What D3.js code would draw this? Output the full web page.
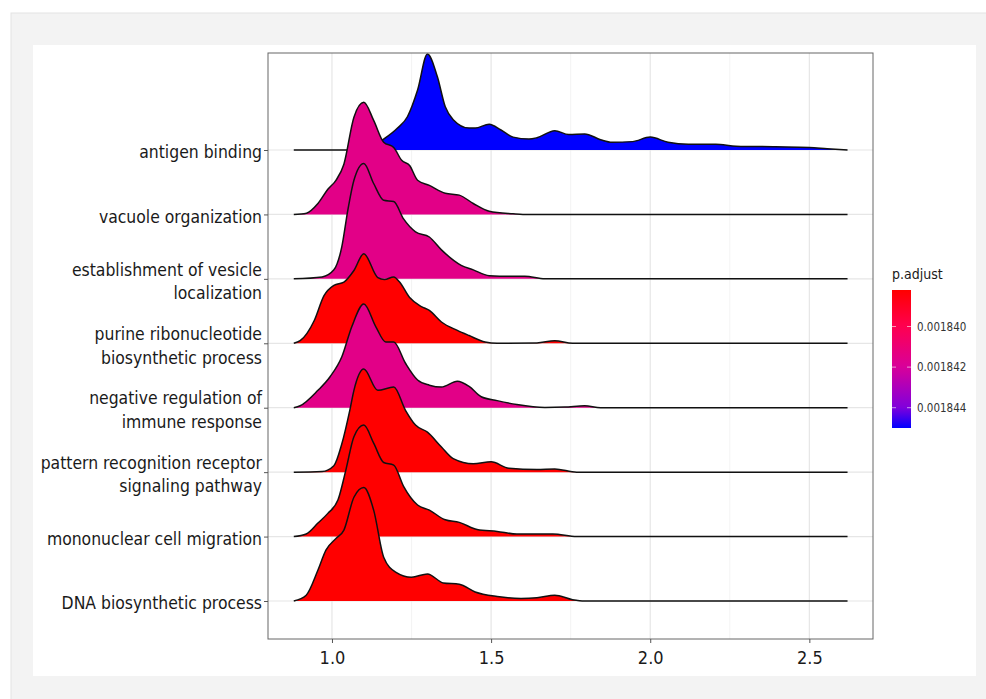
<!DOCTYPE html>
<html>
<head>
<meta charset="utf-8">
<script src="https://cdn.jsdelivr.net/npm/d3@7"></script>
<style>
  body { margin: 0; background: #ffffff; }
  svg { display: block; }
</style>
</head>
<body>
<div id="chart"></div>
<script>
// categories, top row first
const categories = [
  "antigen binding",
  "vacuole organization",
  "establishment of vesicle\nlocalization",
  "purine ribonucleotide\nbiosynthetic process",
  "negative regulation of\nimmune response",
  "pattern recognition receptor\nsignaling pathway",
  "mononuclear cell migration",
  "DNA biosynthetic process"
];

// p.adjust per category (same order)
const pAdjust = [0.001845, 0.0018415, 0.0018415, 0.0018382, 0.0018415, 0.0018382, 0.0018382, 0.0018382];

// density curves: [value, height in row units]
const antigenBinding = [[0.88,0],[1.12,0],[1.144,0.10],[1.206,0.34],[1.2375,0.52],[1.269,0.93],[1.30,1.49],[1.331,1.14],[1.356,0.67],[1.381,0.47],[1.431,0.34],[1.45,0.34],[1.494,0.40],[1.531,0.31],[1.569,0.20],[1.619,0.17],[1.644,0.19],[1.70,0.30],[1.744,0.24],[1.794,0.25],[1.844,0.16],[1.88,0.12],[1.944,0.13],[2.0,0.20],[2.056,0.12],[2.12,0.09],[2.206,0.09],[2.27,0.06],[2.394,0.05],[2.5,0.04],[2.556,0.02],[2.62,0]];
const vacuoleOrganization = [[0.88,0],[0.92,0.02],[0.956,0.17],[0.987,0.39],[1.0125,0.53],[1.0375,0.78],[1.069,1.51],[1.10,1.74],[1.131,1.46],[1.1625,1.12],[1.194,1.04],[1.219,0.84],[1.244,0.76],[1.269,0.53],[1.306,0.45],[1.356,0.33],[1.40,0.30],[1.444,0.17],[1.494,0.05],[1.569,0.01],[1.6,0],[2.62,0]];
const vesicleLocalization = [[0.88,0],[0.969,0.03],[1.006,0.14],[1.031,0.50],[1.05,1.07],[1.069,1.53],[1.10,1.79],[1.131,1.48],[1.1625,1.22],[1.194,1.20],[1.225,0.93],[1.2625,0.73],[1.306,0.65],[1.344,0.45],[1.406,0.21],[1.444,0.14],[1.494,0.05],[1.569,0.04],[1.606,0.04],[1.669,0],[2.62,0]];
const purineBiosynthesis = [[0.88,0],[0.90,0.04],[0.944,0.35],[0.975,0.74],[1.006,0.90],[1.0375,0.95],[1.069,1.13],[1.10,1.39],[1.144,1.02],[1.165,0.99],[1.194,1.03],[1.2125,0.95],[1.244,0.71],[1.281,0.57],[1.306,0.51],[1.344,0.33],[1.394,0.20],[1.431,0.12],[1.481,0.02],[1.519,0],[1.644,0.005],[1.70,0.04],[1.756,0],[2.62,0]];
const negativeImmune = [[0.88,0],[0.90,0.03],[0.956,0.27],[0.994,0.48],[1.031,0.79],[1.0625,1.26],[1.10,1.61],[1.1375,1.26],[1.169,1.02],[1.194,1.02],[1.231,0.69],[1.269,0.43],[1.306,0.35],[1.344,0.32],[1.394,0.41],[1.431,0.33],[1.469,0.17],[1.519,0.11],[1.581,0.05],[1.669,0.005],[1.731,0.01],[1.794,0.03],[1.844,0],[2.62,0]];
const patternRecognition = [[0.88,0],[0.969,0.01],[1.006,0.10],[1.031,0.44],[1.056,0.96],[1.069,1.27],[1.10,1.60],[1.144,1.27],[1.194,1.32],[1.231,0.96],[1.2625,0.73],[1.30,0.62],[1.344,0.39],[1.381,0.21],[1.444,0.13],[1.50,0.16],[1.556,0.06],[1.644,0.04],[1.70,0.05],[1.769,0],[2.62,0]];
const mononuclearMigration = [[0.88,0],[0.919,0.04],[0.956,0.21],[0.987,0.36],[1.019,0.57],[1.044,1.04],[1.069,1.55],[1.10,1.73],[1.131,1.45],[1.1625,1.15],[1.194,1.11],[1.225,0.78],[1.269,0.49],[1.306,0.41],[1.356,0.26],[1.40,0.22],[1.456,0.11],[1.519,0.08],[1.581,0.04],[1.694,0.04],[1.769,0],[2.62,0]];
const dnaBiosynthesis = [[0.88,0],[0.919,0.09],[0.956,0.48],[0.981,0.79],[1.0125,0.97],[1.0375,1.10],[1.069,1.61],[1.10,1.76],[1.131,1.41],[1.1625,0.68],[1.20,0.45],[1.25,0.37],[1.30,0.42],[1.35,0.28],[1.40,0.26],[1.45,0.14],[1.519,0.07],[1.594,0.04],[1.644,0.05],[1.70,0.09],[1.756,0.02],[1.794,0],[2.62,0]];

const ridges = [antigenBinding, vacuoleOrganization, vesicleLocalization, purineBiosynthesis,
                negativeImmune, patternRecognition, mononuclearMigration, dnaBiosynthesis];

const xTicks = [1.0, 1.5, 2.0, 2.5];
const xMinor = [1.25, 1.75, 2.25];
const legendTicks = [0.001840, 0.001842, 0.001844];
const pRange = [0.0018382, 0.0018450];
// colour stops
const colorStopsP = [0.0018382, 0.001840, 0.001842, 0.001844, 0.0018450];
const colorStops = ["#ff0000", "#ff0050", "#d8009a", "#8000dc", "#0000ff"];

// Set up the dimensions
const W = 986, H = 699;
const panel = {left: 268, right: 873, top: 53, bottom: 639};
const fontFam = "'DejaVu Sans', sans-serif";

const svg = d3.select("#chart").append("svg")
    .attr("width", W)
    .attr("height", H);

// page background card
svg.append("rect").attr("x", 11).attr("y", 13).attr("width", W).attr("height", H)
    .attr("fill", "#f3f3f3").attr("stroke", "#e4e4e4");
svg.append("rect").attr("x", 33).attr("y", 45).attr("width", 943).attr("height", 631)
    .attr("fill", "#ffffff");

// scales
const x = d3.scaleLinear().domain([0.799, 2.70]).range([panel.left, panel.right]);
const y = d3.scalePoint().domain(categories).range([150, 601]);
const h = d3.scaleLinear().domain([0, 1]).range([0, y.step()]);
const color = d3.scaleLinear().domain(colorStopsP).range(colorStops).interpolate(d3.interpolateRgb);

// grid
const grid = svg.append("g");
grid.selectAll(".minor").data(xMinor).join("line")
    .attr("x1", d => x(d)).attr("x2", d => x(d))
    .attr("y1", panel.top).attr("y2", panel.bottom)
    .attr("stroke", "#f0f0f0").attr("stroke-width", 0.8);
grid.selectAll(".major").data(xTicks).join("line")
    .attr("x1", d => x(d)).attr("x2", d => x(d))
    .attr("y1", panel.top).attr("y2", panel.bottom)
    .attr("stroke", "#e6e6e6").attr("stroke-width", 1.2);
grid.selectAll(".hmajor").data(categories).join("line")
    .attr("x1", panel.left).attr("x2", panel.right)
    .attr("y1", d => y(d)).attr("y2", d => y(d))
    .attr("stroke", "#e6e6e6").attr("stroke-width", 1.2);

// ridges, top row first so lower rows sit on top
const ridgeG = svg.append("g");
categories.forEach((cat, i) => {
    const base = y(cat);
    const area = d3.area()
        .x(d => x(d[0]))
        .y0(base)
        .y1(d => base - h(d[1]))
        .curve(d3.curveMonotoneX);
    const line = d3.line()
        .x(d => x(d[0]))
        .y(d => base - h(d[1]))
        .curve(d3.curveMonotoneX);
    ridgeG.append("path")
        .attr("d", area(ridges[i]))
        .attr("fill", color(pAdjust[i]));
    ridgeG.append("path")
        .attr("d", line(ridges[i]))
        .attr("fill", "none")
        .attr("stroke", "#111")
        .attr("stroke-width", 1.5);
});

// panel border
svg.append("rect")
    .attr("x", panel.left).attr("y", panel.top)
    .attr("width", panel.right - panel.left).attr("height", panel.bottom - panel.top)
    .attr("fill", "none").attr("stroke", "#666").attr("stroke-width", 1);

// x axis
const xAxis = svg.append("g")
    .attr("transform", `translate(0,${panel.bottom})`)
    .call(d3.axisBottom(x).tickValues(xTicks).tickFormat(d3.format(".1f")).tickSize(4).tickSizeOuter(0))
    .style("font-family", fontFam)
    .style("font-size", "18px")
    .style("font-stretch", "condensed");
xAxis.select(".domain").remove();
xAxis.selectAll("line").attr("stroke", "#555");
xAxis.selectAll("text").attr("fill", "#1a1a1a").attr("dy", "1.0em");

// y axis
const yAxis = svg.append("g")
    .attr("transform", `translate(${panel.left},0)`)
    .call(d3.axisLeft(y).tickSize(4).tickFormat(""));
yAxis.select(".domain").remove();
yAxis.selectAll("line").attr("stroke", "#555");

const yLab = svg.append("g")
    .style("font-family", fontFam)
    .style("font-size", "17.4px")
    .style("font-stretch", "condensed")
    .attr("fill", "#1a1a1a")
    .attr("text-anchor", "end");
categories.forEach(cat => {
    const lines = cat.split("\n");
    const t = yLab.append("text").attr("x", 262).attr("y", y(cat) + 2);
    lines.forEach((ln, j) => {
        const off = lines.length === 1 ? 0.35 : (j === 0 ? -0.3 : 1.05);
        t.append("tspan").attr("x", 262).attr("y", y(cat) + 2).attr("dy", off + "em").text(ln);
    });
});

// legend
const leg = svg.append("g");
const barTop = 290, barBot = 428, barX = 892, barW = 19;
const legY = d3.scaleLinear().domain(pRange).range([barTop, barBot]);
const defs = svg.append("defs");
const grad = defs.append("linearGradient").attr("id", "pgrad")
    .attr("x1", 0).attr("x2", 0).attr("y1", 0).attr("y2", 1);
d3.range(0, 1.0001, 0.05).forEach(t => {
    grad.append("stop").attr("offset", t)
        .attr("stop-color", color(pRange[0] + t * (pRange[1] - pRange[0])));
});
leg.append("text")
    .attr("x", barX).attr("y", barTop - 11)
    .style("font-family", fontFam).style("font-size", "14px").style("font-stretch", "condensed")
    .attr("fill", "#1a1a1a")
    .text("p.adjust");
leg.append("rect")
    .attr("x", barX).attr("y", barTop).attr("width", barW).attr("height", barBot - barTop)
    .attr("fill", "url(#pgrad)");
legendTicks.forEach(v => {
    leg.append("line").attr("x1", barX).attr("x2", barX + 4)
        .attr("y1", legY(v)).attr("y2", legY(v)).attr("stroke", "#fff").attr("stroke-opacity", 0.6);
    leg.append("line").attr("x1", barX + barW - 4).attr("x2", barX + barW)
        .attr("y1", legY(v)).attr("y2", legY(v)).attr("stroke", "#fff").attr("stroke-opacity", 0.6);
    leg.append("text")
        .attr("x", barX + barW + 6).attr("y", legY(v)).attr("dy", "0.35em")
        .style("font-family", fontFam).style("font-size", "11.5px").style("font-stretch", "condensed")
        .attr("fill", "#333")
        .text(d3.format(".6f")(v));
});
</script>
</body>
</html>
